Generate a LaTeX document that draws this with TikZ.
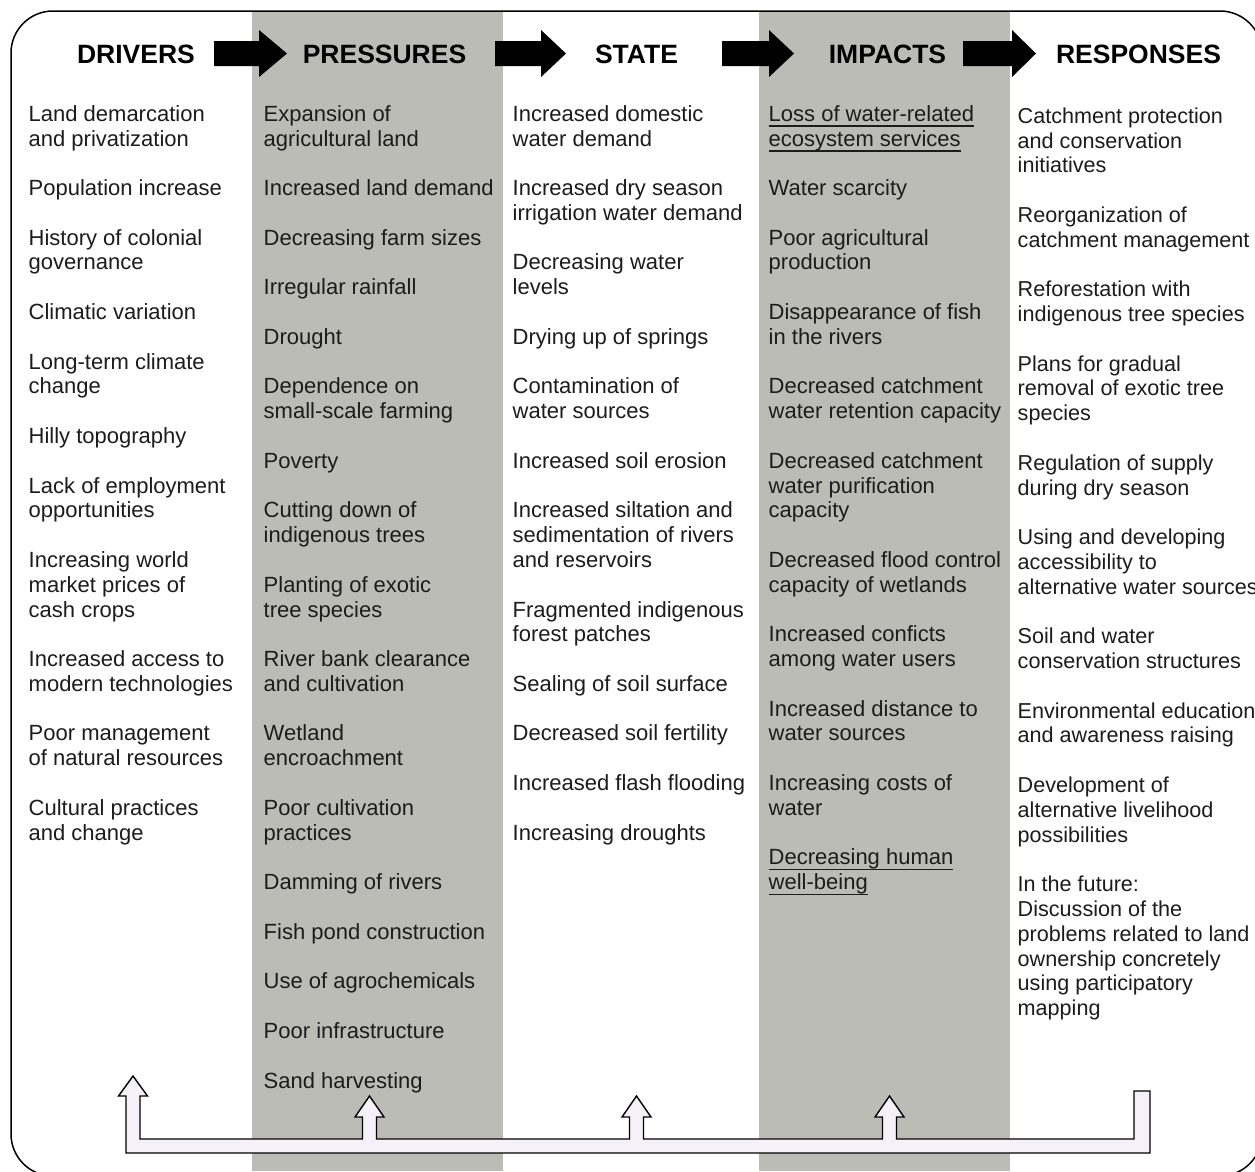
\documentclass[tikz,border=0pt]{standalone}
\usepackage{fontspec}
\setmainfont{Liberation Sans}
\definecolor{colgray}{HTML}{BBBCB6}
\definecolor{fbfill}{HTML}{F5F1F8}
\definecolor{txt}{HTML}{1C1C1C}
\newcommand{\blk}{\\\strut\\}
\newsavebox{\ulbox}
\newcommand{\ulx}[1]{\sbox{\ulbox}{#1}\rlap{\rule[-5.5pt]{\wd\ulbox}{1.4pt}}\usebox{\ulbox}}
\newcommand{\hdarrow}[3]{\fill[black] (#1,41) -- (#2,41) -- (#2,30) -- (#3,53.5) -- (#2,77) -- (#2,66) -- (#1,66) -- cycle;}
\begin{document}
\begin{tikzpicture}[x=1pt,y=-1pt,
  body/.style={anchor=north west, inner sep=0pt, align=left, text=txt, font=\fontsize{22}{24.79}\selectfont},
  head/.style={anchor=base, inner sep=0pt, text=black, font=\fontsize{26.5}{30}\selectfont\bfseries},
  feedback/.style={draw=black, line width=1.4pt, fill=fbfill, line join=miter}]
\useasboundingbox (0,0) rectangle (1255,1171);
\fill[white] (0,0) rectangle (1255,1171);
% grey columns
\fill[colgray] (252,11) rectangle (503,1171);
\fill[colgray] (759,11) rectangle (1010,1171);
% frame
\draw[line width=1.5pt, rounded corners=42pt] (11,11) rectangle (1262,1176);
% headers
\node[head] (hd) at (136,63) {DRIVERS};
\node[head] (hp) at (384.5,63) {PRESSURES};
\node[head] (hs) at (636.5,63) {STATE};
\node[head] (hi) at (887.5,63) {IMPACTS};
\node[head] (hr) at (1138.5,63) {RESPONSES};
\hdarrow{214}{259}{287}
\hdarrow{495}{541}{566}
\hdarrow{722}{769}{794}
\hdarrow{963}{1012}{1036}
% columns
\node[body] (cd) at (28.5,103.65) {\strut Land demarcation\\and privatization\blk
Population increase\blk
History of colonial\\governance\blk
Climatic variation\blk
Long-term climate\\change\blk
Hilly topography\blk
Lack of employment\\opportunities\blk
Increasing world\\market prices of\\cash crops\blk
Increased access to\\modern technologies\blk
Poor management\\of natural resources\blk
Cultural practices\\and change};
\node[body] (cp) at (263.5,103.65) {\strut Expansion of\\agricultural land\blk
Increased land demand\blk
Decreasing farm sizes\blk
Irregular rainfall\blk
Drought\blk
Dependence on\\small-scale farming\blk
Poverty\blk
Cutting down of\\indigenous trees\blk
Planting of exotic\\tree species\blk
River bank clearance\\and cultivation\blk
Wetland\\encroachment\blk
Poor cultivation\\practices\blk
Damming of rivers\blk
Fish pond construction\blk
Use of agrochemicals\blk
Poor infrastructure\blk
Sand harvesting};
\node[body] (cs) at (512.5,103.65) {\strut Increased domestic\\water demand\blk
Increased dry season\\irrigation water demand\blk
Decreasing water\\levels\blk
Drying up of springs\blk
Contamination of\\water sources\blk
Increased soil erosion\blk
Increased siltation and\\sedimentation of rivers\\and reservoirs\blk
Fragmented indigenous\\forest patches\blk
Sealing of soil surface\blk
Decreased soil fertility\blk
Increased flash flooding\blk
Increasing droughts};
\node[body] (ci) at (768.5,103.65) {\strut\ulx{Loss of water-related}\\\ulx{ecosystem services}\blk
Water scarcity\blk
Poor agricultural\\production\blk
Disappearance of fish\\in the rivers\blk
Decreased catchment\\water retention capacity\blk
Decreased catchment\\water purification\\capacity\blk
Decreased flood control\\capacity of wetlands\blk
Increased conficts\\among water users\blk
Increased distance to\\water sources\blk
Increasing costs of\\water\blk
\ulx{Decreasing human}\\\ulx{well-being}};
\node[body, font=\fontsize{21.6}{24.79}\selectfont] (cr) at (1017.5,105.65) {\strut Catchment protection\\and conservation\\initiatives\blk
Reorganization of\\catchment management\blk
Reforestation with\\indigenous tree species\blk
Plans for gradual\\removal of exotic tree\\species\blk
Regulation of supply\\during dry season\blk
Using and developing\\accessibility to\\alternative water sources\blk
Soil and water\\conservation structures\blk
Environmental education\\and awareness raising\blk
Development of\\alternative livelihood\\possibilities\blk
In the future:\\Discussion of the\\problems related to land\\ownership concretely\\using participatory\\mapping};
% feedback arrow
\draw[feedback] (126,1153) -- (126,1096) -- (118.5,1096) -- (133,1076) -- (147.5,1096) -- (140,1096) -- (140,1139)
  -- (362.5,1139) -- (362.5,1117) -- (355,1117) -- (369.5,1096) -- (384,1117) -- (376.5,1117) -- (376.5,1139)
  -- (629.5,1139) -- (629.5,1117) -- (622,1117) -- (636.5,1096) -- (651,1117) -- (643.5,1117) -- (643.5,1139)
  -- (882.5,1139) -- (882.5,1117) -- (875,1117) -- (889.5,1096) -- (904,1117) -- (896.5,1117) -- (896.5,1139)
  -- (1134,1139) -- (1134,1091) -- (1150,1091) -- (1150,1153) -- cycle;
\end{tikzpicture}
\end{document}
